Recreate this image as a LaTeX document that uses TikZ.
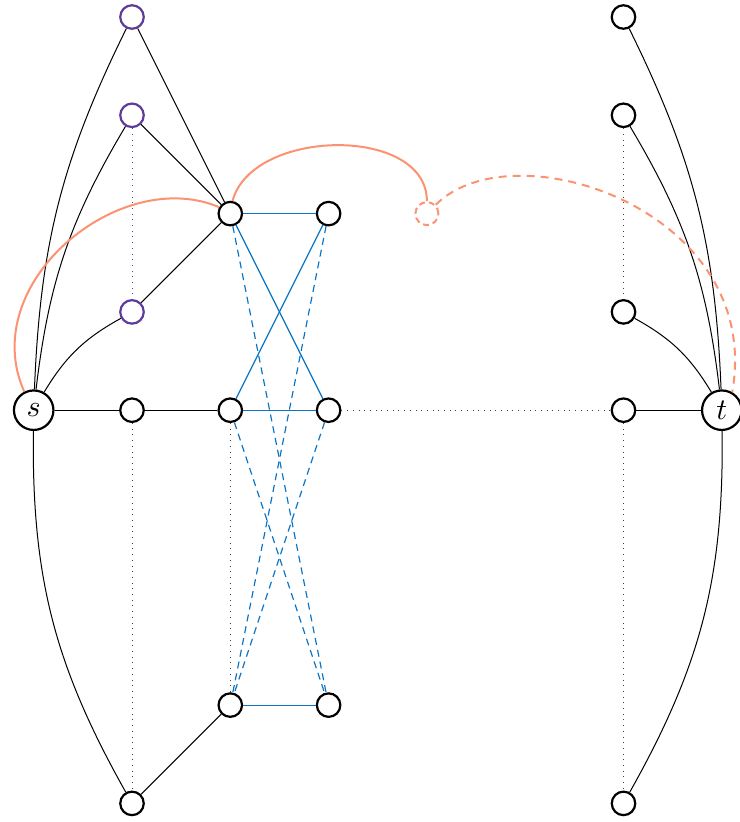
\documentclass[tikz,border=0pt]{standalone}
\usepackage{graphicx}
\definecolor{myorange}{HTML}{FC9272}
\definecolor{myblue}{HTML}{0A74C4}
\definecolor{mypurple}{HTML}{5E3C99}
\tikzset{
 vtx/.style={circle, draw, line width=2.2pt, minimum size=23.5pt, inner sep=0pt, fill=white},
 pvtx/.style={vtx, draw=mypurple},
 bigvtx/.style={vtx, minimum size=39.5pt},
 edge/.style={line width=1pt},
 bedge/.style={line width=1.2pt, myblue},
 bdash/.style={bedge, dash pattern=on 7pt off 5pt},
 dots/.style={line width=1pt, black!75, dash pattern=on 1pt off 4.7pt},
 pdots/.style={dots, mypurple},
 oedge/.style={line width=2pt, myorange},
 odash/.style={oedge, dash pattern=on 8pt off 6pt},
}
\begin{document}
\begin{tikzpicture}[x=98.3pt,y=-98.3pt]
\useasboundingbox (-33.7pt,17pt) rectangle (705.3pt,-805pt);
% nodes
\node[bigvtx] (s) at (0,4) {\scalebox{3}{$s$}};
\node[bigvtx] (t) at (7,4) {\scalebox{3}{$t$}};
\node[pvtx] (p0) at (1,0) {};
\node[pvtx] (p1) at (1,1) {};
\node[pvtx] (p3) at (1,3) {};
\node[vtx] (b4) at (1,4) {};
\node[vtx] (b8) at (1,8) {};
\node[vtx] (a2) at (2,2) {};
\node[vtx] (a4) at (2,4) {};
\node[vtx] (a7) at (2,7) {};
\node[vtx] (d2) at (3,2) {};
\node[vtx] (d4) at (3,4) {};
\node[vtx] (d7) at (3,7) {};
\node[circle, draw=myorange, line width=2pt, dash pattern=on 6pt off 4pt, minimum size=23pt, inner sep=0pt] (c) at (4,2) {};
\node[vtx] (r0) at (6,0) {};
\node[vtx] (r1) at (6,1) {};
\node[vtx] (r3) at (6,3) {};
\node[vtx] (r4) at (6,4) {};
\node[vtx] (r8) at (6,8) {};
% left side
\draw[edge] (s) to[bend left=12] (p0);
\draw[edge] (s) to[bend left=12] (p1);
\draw[edge] (s) to[bend left=15] (p3);
\draw[edge] (s) -- (b4);
\draw[edge] (s) to[bend right=15] (b8);
\draw[edge] (p0) -- (a2);
\draw[edge] (p1) -- (a2);
\draw[edge] (p3) -- (a2);
\draw[pdots] (p1) -- (p3);
\draw[dots] (b4) -- (b8);
\draw[edge] (b4) -- (a4);
\draw[edge] (b8) -- (a7);
\draw[dots] (a4) -- (a7);
% blue
\draw[bedge] (a2) -- (d2);
\draw[bedge] (a2) -- (d4);
\draw[bedge] (a4) -- (d2);
\draw[bedge] (a4) -- (d4);
\draw[bedge] (a7) -- (d7);
\draw[bdash] (a2) -- (d7);
\draw[bdash] (a4) -- (d7);
\draw[bdash] (d2) -- (a7);
\draw[bdash] (d4) -- (a7);
% right side
\draw[dots] (d4) -- (r4);
\draw[edge] (r4) -- (t);
\draw[edge] (t) to[bend right=12] (r0);
\draw[edge] (t) to[bend right=12] (r1);
\draw[edge] (t) to[bend right=15] (r3);
\draw[edge] (t) to[bend left=15] (r8);
\draw[dots] (r1) -- (r3);
\draw[dots] (r4) -- (r8);
% orange
\draw[oedge] (s.117) to[out=114,in=157,out looseness=1.13,in looseness=1.03] (a2.150);
\draw[oedge] (a2.80) to[out=75,in=90,looseness=1] (c.north);
\draw[odash] (c.45) to[out=45,in=80,out looseness=0.8,in looseness=1.35] (t.60);
\end{tikzpicture}
\end{document}
